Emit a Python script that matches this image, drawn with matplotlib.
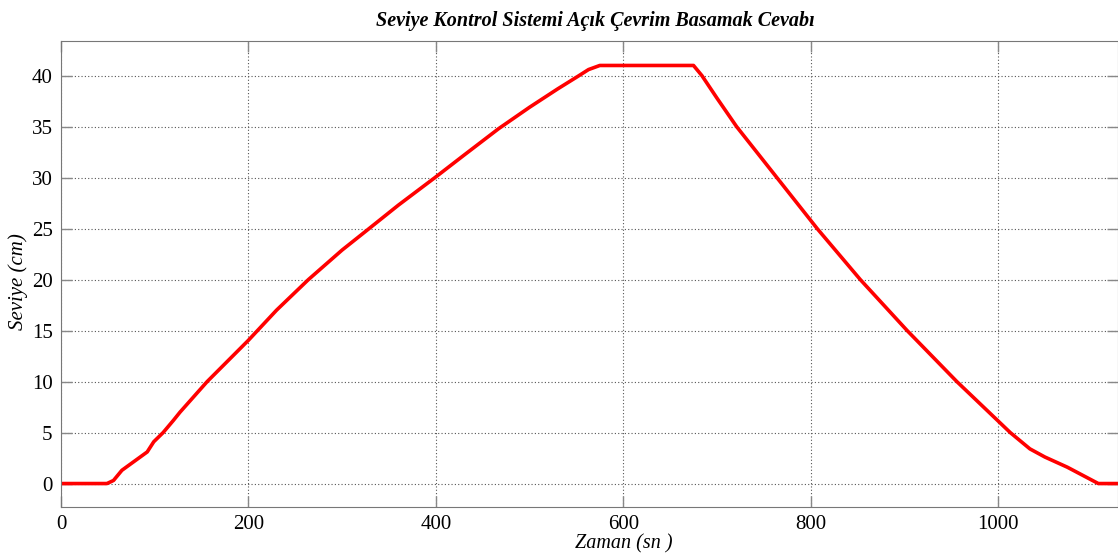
import matplotlib
matplotlib.use('Agg')
import matplotlib.pyplot as plt

# zaman (sn) ve seviye (cm) okumaları
zaman = [0, 49, 56, 65, 77, 92, 99, 109, 120, 127, 156, 200, 230, 264, 300,
         326, 360, 399, 430, 467, 500, 530, 551, 563, 575, 675, 684, 700,
         721, 764, 807, 853, 903, 956, 1013, 1034, 1050, 1074, 1107, 1128]
seviye = [0, 0, 0.3, 1.3, 2.1, 3.1, 4.1, 5.0, 6.2, 7.0, 10.0, 14.05, 17.0,
          20.0, 22.9, 24.8, 27.3, 30.0, 32.2, 34.8, 36.9, 38.7, 39.9, 40.6,
          41.0, 41.0, 40.0, 37.8, 35.0, 30.0, 25.0, 20.0, 15.0, 10.0, 5.0,
          3.4, 2.6, 1.6, 0, 0]

plt.rcParams['font.family'] = ['Liberation Serif', 'DejaVu Serif']

fig = plt.figure(figsize=(11.18, 5.55), dpi=100)
ax = fig.add_axes([61 / 1118, 48 / 555, 1057 / 1118, 466 / 555])

ax.plot(zaman, seviye, color='red', linewidth=2.6, solid_joinstyle='round')

ax.set_xlim(0, 1128)
ax.set_ylim(-2.3, 43.4)
ax.set_xticks([0, 200, 400, 600, 800, 1000])
ax.set_yticks(range(0, 41, 5))

ax.grid(True, color='#555555', linestyle=(0, (1, 2)), linewidth=0.8)
ax.tick_params(direction='in', length=8, width=1, color='#888888',
               top=True, right=True, labelsize=15, pad=6)
for s in ax.spines.values():
    s.set_color('#777777')

fig.text(595 / 1118, 1 - 26 / 555, 'Seviye Kontrol Sistemi Açık Çevrim Basamak Cevabı',
         ha='center', va='baseline', fontsize=14.5, fontweight='bold', fontstyle='italic')
fig.text(624 / 1118, 1 - 548 / 555, 'Zaman (sn )', ha='center', va='baseline',
         fontsize=14.5, fontstyle='italic')
fig.text(18 / 1118, 1 - 282 / 555, 'Seviye (cm)', ha='center', va='center',
         rotation=90, fontsize=15, fontstyle='italic')

fig.savefig('out.png', dpi=100)
